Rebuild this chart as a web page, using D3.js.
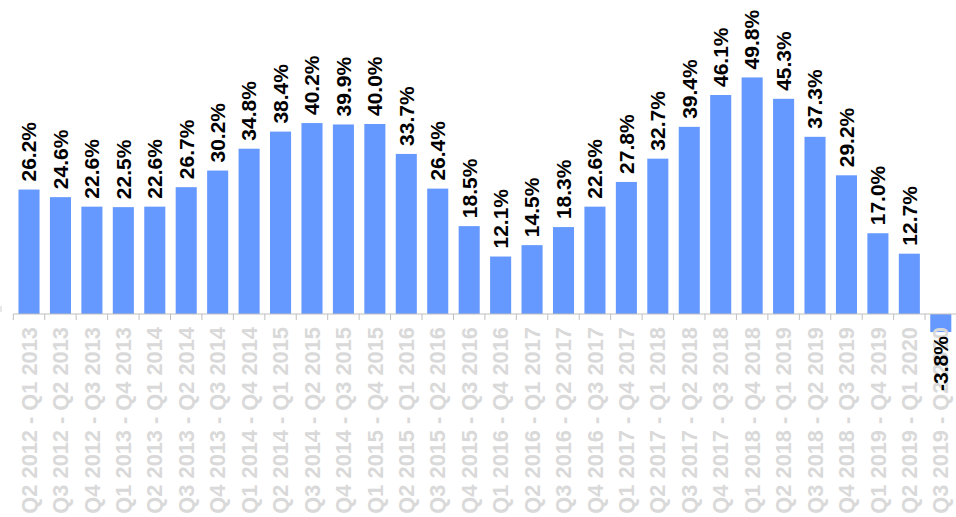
<!DOCTYPE html>
<html><head><meta charset="utf-8">
<script src="https://cdn.jsdelivr.net/npm/d3@7"></script>
<style>html,body{margin:0;padding:0;background:#fff;}svg{display:block;}</style>
</head><body>
<svg id="chart" width="956" height="517"></svg>
<script>
const categories = [
  "Q2 2012 - Q1 2013","Q3 2012 - Q2 2013","Q4 2012 - Q3 2013","Q1 2013 - Q4 2013",
  "Q2 2013 - Q1 2014","Q3 2013 - Q2 2014","Q4 2013 - Q3 2014","Q1 2014 - Q4 2014",
  "Q2 2014 - Q1 2015","Q3 2014 - Q2 2015","Q4 2014 - Q3 2015","Q1 2015 - Q4 2015",
  "Q2 2015 - Q1 2016","Q3 2015 - Q2 2016","Q4 2015 - Q3 2016","Q1 2016 - Q4 2016",
  "Q2 2016 - Q1 2017","Q3 2016 - Q2 2017","Q4 2016 - Q3 2017","Q1 2017 - Q4 2017",
  "Q2 2017 - Q1 2018","Q3 2017 - Q2 2018","Q4 2017 - Q3 2018","Q1 2018 - Q4 2018",
  "Q2 2018 - Q1 2019","Q3 2018 - Q2 2019","Q4 2018 - Q3 2019","Q1 2019 - Q4 2019",
  "Q2 2019 - Q1 2020","Q3 2019 - Q2 2020"
];
const values = [26.2,24.6,22.6,22.5,22.6,26.7,30.2,34.8,38.4,40.2,39.9,40.0,33.7,26.4,18.5,12.1,14.5,18.3,22.6,27.8,32.7,39.4,46.1,49.8,45.3,37.3,29.2,17.0,12.7,-3.8];

const svg = d3.select("#chart");
const font = "'Liberation Sans', Arial, sans-serif";
const x = d3.scaleBand().domain(categories).range([13.3, 956.5]).paddingInner(0.33).paddingOuter(0.165);
const y = d3.scaleLinear().domain([-10, 60]).range([361.5, 29]);
const y0 = y(0);

// bars
svg.append("g").selectAll("rect").data(values).join("rect")
  .attr("x", (d,i) => x(categories[i]))
  .attr("width", x.bandwidth())
  .attr("y", d => y(Math.max(0,d)))
  .attr("height", d => Math.abs(y(d) - y0))
  .attr("fill", "#6699ff");

// x axis
const step = x.step();
const ax = svg.append("g").attr("transform", `translate(0,${y0})`);
ax.append("line").attr("x1", x.range()[0]).attr("x2", 956).attr("y1", 0).attr("y2", 0)
  .attr("stroke", "#bfbfbf").attr("stroke-width", 1);
ax.selectAll("line.tick").data(d3.range(categories.length + 1)).join("line")
  .attr("class","tick")
  .attr("x1", i => x.range()[0] + i*step).attr("x2", i => x.range()[0] + i*step)
  .attr("y1", 0).attr("y2", 6).attr("stroke", "#bfbfbf");
svg.append("line").attr("x1", 1).attr("x2", 1).attr("y1", 306).attr("y2", 312).attr("stroke", "#d0d0d0");

// x tick labels
ax.selectAll("text").data(categories).join("text")
  .attr("transform", d => `translate(${x(d) + x.bandwidth()/2},13) rotate(-90)`)
  .attr("text-anchor", "end")
  .attr("dy", "0.35em")
  .attr("font-family", font).attr("font-weight", "bold").attr("font-size", 21.8)
  .attr("fill", "#d9d9d9")
  .text(d => d);

// data labels
svg.append("g").selectAll("text").data(values).join("text")
  .attr("transform", (d,i) => {
    const cx = x(categories[i]) + x.bandwidth()/2;
    const yy = d >= 0 ? y(d) - 8 : y(d) + 4;
    return `translate(${cx},${yy}) rotate(-90)`;
  })
  .attr("text-anchor", d => d >= 0 ? "start" : "end")
  .attr("dy", "0.35em")
  .attr("font-family", font).attr("font-weight", "bold").attr("font-size", 21)
  .attr("fill", "#000")
  .text(d => d.toFixed(1) + "%");
</script>
</body></html>
